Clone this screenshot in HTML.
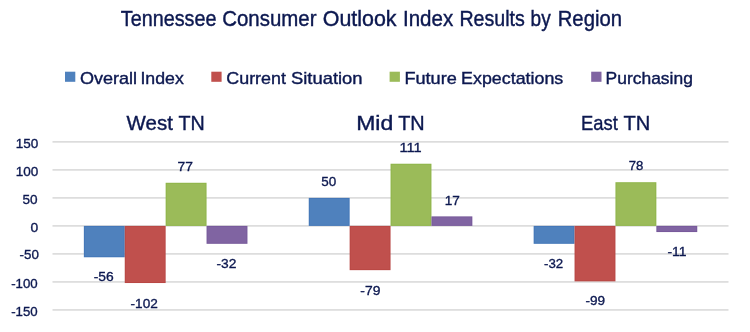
<!DOCTYPE html><html><head><meta charset="utf-8"><style>html,body{margin:0;padding:0;background:#fff;width:750px;height:332px;overflow:hidden}svg{display:block;will-change:transform}text{font-family:"Liberation Sans",sans-serif;fill:#0C1850;stroke:#0C1850}</style></head><body>
<svg width="750" height="332" viewBox="0 0 750 332">
<rect x="52.50" y="141.08" width="676.00" height="1.6" fill="#DADADA"/>
<rect x="52.50" y="169.09" width="676.00" height="1.6" fill="#DADADA"/>
<rect x="52.50" y="197.09" width="676.00" height="1.6" fill="#DADADA"/>
<rect x="52.50" y="225.10" width="676.00" height="1.6" fill="#DADADA"/>
<rect x="52.50" y="253.10" width="676.00" height="1.6" fill="#DADADA"/>
<rect x="52.50" y="281.11" width="676.00" height="1.6" fill="#DADADA"/>
<rect x="52.50" y="309.12" width="676.00" height="1.6" fill="#DADADA"/>
<rect x="83.85" y="225.90" width="40.90" height="31.37" fill="#4377B8"/>
<rect x="84.85" y="226.90" width="38.90" height="29.37" fill="#4F81BD"/>
<rect x="124.75" y="225.90" width="40.90" height="57.13" fill="#B94845"/>
<rect x="125.75" y="226.90" width="38.90" height="55.13" fill="#C0504D"/>
<rect x="165.65" y="182.77" width="40.90" height="43.13" fill="#8FB54A"/>
<rect x="166.65" y="183.77" width="38.90" height="41.13" fill="#9BBB59"/>
<rect x="206.55" y="225.90" width="40.90" height="17.92" fill="#775A9B"/>
<rect x="207.55" y="226.90" width="38.90" height="15.92" fill="#8064A2"/>
<rect x="308.75" y="197.90" width="40.90" height="28.00" fill="#4377B8"/>
<rect x="309.75" y="198.90" width="38.90" height="26.00" fill="#4F81BD"/>
<rect x="349.65" y="225.90" width="40.90" height="44.25" fill="#B94845"/>
<rect x="350.65" y="226.90" width="38.90" height="42.25" fill="#C0504D"/>
<rect x="390.55" y="163.73" width="40.90" height="62.17" fill="#8FB54A"/>
<rect x="391.55" y="164.73" width="38.90" height="60.17" fill="#9BBB59"/>
<rect x="431.45" y="216.38" width="40.90" height="9.52" fill="#775A9B"/>
<rect x="432.45" y="217.38" width="38.90" height="7.52" fill="#8064A2"/>
<rect x="533.65" y="225.90" width="40.90" height="17.92" fill="#4377B8"/>
<rect x="534.65" y="226.90" width="38.90" height="15.92" fill="#4F81BD"/>
<rect x="574.55" y="225.90" width="40.90" height="55.45" fill="#B94845"/>
<rect x="575.55" y="226.90" width="38.90" height="53.45" fill="#C0504D"/>
<rect x="615.45" y="182.21" width="40.90" height="43.69" fill="#8FB54A"/>
<rect x="616.45" y="183.21" width="38.90" height="41.69" fill="#9BBB59"/>
<rect x="656.35" y="225.90" width="40.90" height="6.16" fill="#775A9B"/>
<rect x="657.35" y="226.90" width="38.90" height="4.16" fill="#8064A2"/>
<rect x="65.00" y="71.7" width="10.3" height="10.1" fill="#4F81BD"/>
<rect x="211.30" y="71.7" width="10.3" height="10.1" fill="#C0504D"/>
<rect x="389.60" y="71.7" width="10.3" height="10.1" fill="#9BBB59"/>
<rect x="591.20" y="71.7" width="10.3" height="10.1" fill="#8064A2"/>
<text x="120.75" y="26.00" font-size="21.40" stroke-width="0.40" textLength="95.73" lengthAdjust="spacingAndGlyphs">Tennessee</text>
<text x="222.18" y="26.00" font-size="21.40" stroke-width="0.40" textLength="94.34" lengthAdjust="spacingAndGlyphs">Consumer</text>
<text x="322.78" y="26.00" font-size="21.40" stroke-width="0.40" textLength="73.79" lengthAdjust="spacingAndGlyphs">Outlook</text>
<text x="403.00" y="26.00" font-size="21.40" stroke-width="0.40" textLength="50.23" lengthAdjust="spacingAndGlyphs">Index</text>
<text x="459.38" y="26.00" font-size="21.40" stroke-width="0.40" textLength="65.50" lengthAdjust="spacingAndGlyphs">Results</text>
<text x="530.56" y="26.00" font-size="21.40" stroke-width="0.40" textLength="20.11" lengthAdjust="spacingAndGlyphs">by</text>
<text x="557.73" y="26.00" font-size="21.40" stroke-width="0.40" textLength="64.27" lengthAdjust="spacingAndGlyphs">Region</text>
<text x="79.94" y="84.30" font-size="17.00" stroke-width="0.40" textLength="57.18" lengthAdjust="spacingAndGlyphs">Overall</text>
<text x="140.46" y="84.30" font-size="17.00" stroke-width="0.40" textLength="43.34" lengthAdjust="spacingAndGlyphs">Index</text>
<text x="226.31" y="84.30" font-size="17.00" stroke-width="0.40" textLength="59.62" lengthAdjust="spacingAndGlyphs">Current</text>
<text x="290.97" y="84.30" font-size="17.00" stroke-width="0.40" textLength="71.61" lengthAdjust="spacingAndGlyphs">Situation</text>
<text x="404.41" y="84.30" font-size="17.00" stroke-width="0.40" textLength="52.37" lengthAdjust="spacingAndGlyphs">Future</text>
<text x="461.13" y="84.30" font-size="17.00" stroke-width="0.40" textLength="102.11" lengthAdjust="spacingAndGlyphs">Expectations</text>
<text x="605.56" y="84.30" font-size="17.00" stroke-width="0.40" textLength="87.34" lengthAdjust="spacingAndGlyphs">Purchasing</text>
<text x="126.60" y="129.80" font-size="21.00" stroke-width="0.40" textLength="46.25" lengthAdjust="spacingAndGlyphs">West</text>
<text x="178.46" y="129.80" font-size="21.00" stroke-width="0.40" textLength="26.28" lengthAdjust="spacingAndGlyphs">TN</text>
<text x="356.20" y="129.80" font-size="21.00" stroke-width="0.40" textLength="37.07" lengthAdjust="spacingAndGlyphs">Mid</text>
<text x="398.15" y="129.80" font-size="21.00" stroke-width="0.40" textLength="26.50" lengthAdjust="spacingAndGlyphs">TN</text>
<text x="581.08" y="129.80" font-size="21.00" stroke-width="0.40" textLength="36.77" lengthAdjust="spacingAndGlyphs">East</text>
<text x="623.45" y="129.80" font-size="21.00" stroke-width="0.40" textLength="26.82" lengthAdjust="spacingAndGlyphs">TN</text>
<text x="15.79" y="147.80" font-size="13.50" stroke-width="0.35" textLength="22.53" lengthAdjust="spacingAndGlyphs">150</text>
<text x="15.79" y="175.70" font-size="13.50" stroke-width="0.35" textLength="22.53" lengthAdjust="spacingAndGlyphs">100</text>
<text x="22.56" y="204.10" font-size="13.50" stroke-width="0.35" textLength="15.08" lengthAdjust="spacingAndGlyphs">50</text>
<text x="30.45" y="232.30" font-size="13.50" stroke-width="0.35" textLength="7.69" lengthAdjust="spacingAndGlyphs">0</text>
<text x="19.60" y="259.00" font-size="13.50" stroke-width="0.35" textLength="19.31" lengthAdjust="spacingAndGlyphs">-50</text>
<text x="11.20" y="287.90" font-size="13.50" stroke-width="0.35" textLength="26.51" lengthAdjust="spacingAndGlyphs">-100</text>
<text x="11.20" y="315.60" font-size="13.50" stroke-width="0.35" textLength="26.51" lengthAdjust="spacingAndGlyphs">-150</text>
<text x="177.61" y="170.70" font-size="13.50" stroke-width="0.35" textLength="15.42" lengthAdjust="spacingAndGlyphs">77</text>
<text x="93.68" y="281.30" font-size="13.50" stroke-width="0.35" textLength="20.02" lengthAdjust="spacingAndGlyphs">-56</text>
<text x="130.59" y="307.60" font-size="13.50" stroke-width="0.35" textLength="27.21" lengthAdjust="spacingAndGlyphs">-102</text>
<text x="216.48" y="267.80" font-size="13.50" stroke-width="0.35" textLength="19.91" lengthAdjust="spacingAndGlyphs">-32</text>
<text x="321.36" y="186.40" font-size="13.50" stroke-width="0.35" textLength="14.97" lengthAdjust="spacingAndGlyphs">50</text>
<text x="399.61" y="151.70" font-size="13.50" stroke-width="0.35" textLength="22.08" lengthAdjust="spacingAndGlyphs">111</text>
<text x="444.78" y="205.40" font-size="13.50" stroke-width="0.35" textLength="15.13" lengthAdjust="spacingAndGlyphs">17</text>
<text x="360.38" y="294.50" font-size="13.50" stroke-width="0.35" textLength="20.05" lengthAdjust="spacingAndGlyphs">-79</text>
<text x="544.00" y="267.70" font-size="13.50" stroke-width="0.35" textLength="19.16" lengthAdjust="spacingAndGlyphs">-32</text>
<text x="585.49" y="305.20" font-size="13.50" stroke-width="0.35" textLength="19.63" lengthAdjust="spacingAndGlyphs">-99</text>
<text x="628.74" y="170.40" font-size="13.50" stroke-width="0.35" textLength="14.65" lengthAdjust="spacingAndGlyphs">78</text>
<text x="667.47" y="255.90" font-size="13.50" stroke-width="0.35" textLength="19.10" lengthAdjust="spacingAndGlyphs">-11</text>
</svg></body></html>
